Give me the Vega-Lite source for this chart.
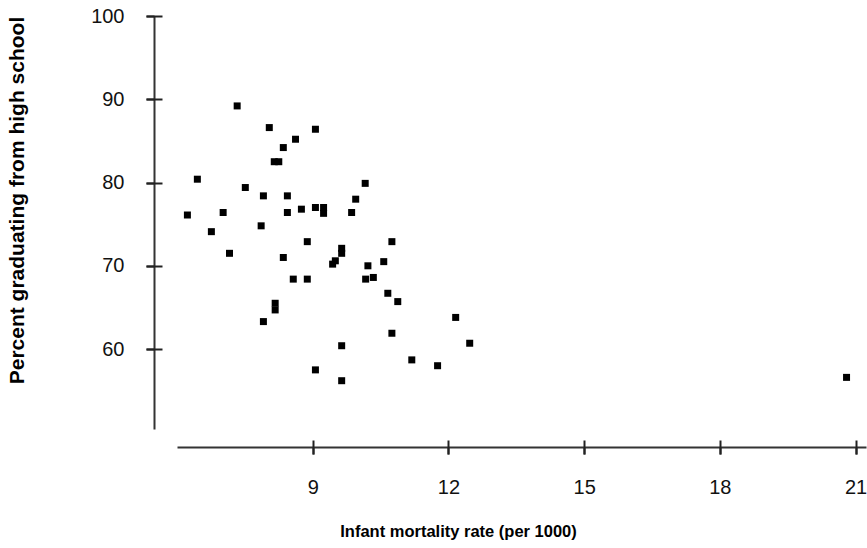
{
  "$schema": "https://vega.github.io/schema/vega-lite/v6.json",
  "width": 689,
  "height": 413,
  "autosize": {"type": "none"},
  "padding": {"left": 177, "top": 16, "right": 1, "bottom": 119},
  "background": "white",
  "config": {"view": {"stroke": null}, "axis": {"grid": false}},
  "data": {"values": [
    {"rate": 7.33, "pct": 89.2}, {"rate": 8.04, "pct": 86.6}, {"rate": 9.06, "pct": 86.4},
    {"rate": 8.62, "pct": 85.2}, {"rate": 8.35, "pct": 84.2}, {"rate": 8.15, "pct": 82.5},
    {"rate": 8.25, "pct": 82.5}, {"rate": 6.45, "pct": 80.4}, {"rate": 7.51, "pct": 79.4},
    {"rate": 10.16, "pct": 79.9}, {"rate": 7.91, "pct": 78.4}, {"rate": 8.44, "pct": 78.4},
    {"rate": 9.95, "pct": 78.0}, {"rate": 6.23, "pct": 76.1}, {"rate": 7.02, "pct": 76.4},
    {"rate": 8.44, "pct": 76.4}, {"rate": 8.75, "pct": 76.8}, {"rate": 9.06, "pct": 77.0},
    {"rate": 9.24, "pct": 77.0}, {"rate": 9.24, "pct": 76.3}, {"rate": 9.86, "pct": 76.4},
    {"rate": 6.76, "pct": 74.1}, {"rate": 7.86, "pct": 74.8}, {"rate": 8.88, "pct": 72.9},
    {"rate": 9.64, "pct": 72.1}, {"rate": 9.64, "pct": 71.5}, {"rate": 9.50, "pct": 70.6},
    {"rate": 9.44, "pct": 70.2}, {"rate": 7.16, "pct": 71.5}, {"rate": 8.35, "pct": 71.0},
    {"rate": 10.22, "pct": 70.0}, {"rate": 10.17, "pct": 68.4}, {"rate": 10.34, "pct": 68.6},
    {"rate": 8.57, "pct": 68.4}, {"rate": 8.88, "pct": 68.4}, {"rate": 8.17, "pct": 65.5},
    {"rate": 8.17, "pct": 64.7}, {"rate": 7.91, "pct": 63.3}, {"rate": 9.64, "pct": 60.4},
    {"rate": 9.06, "pct": 57.5}, {"rate": 9.64, "pct": 56.2}, {"rate": 10.75, "pct": 72.9},
    {"rate": 10.57, "pct": 70.5}, {"rate": 10.66, "pct": 66.7}, {"rate": 10.88, "pct": 65.7},
    {"rate": 12.16, "pct": 63.8}, {"rate": 10.75, "pct": 61.9}, {"rate": 12.47, "pct": 60.7},
    {"rate": 11.19, "pct": 58.7}, {"rate": 11.76, "pct": 58.0}, {"rate": 20.80, "pct": 56.6}
  ]},
  "layer": [
    {
      "mark": {"type": "square", "size": 49, "color": "black", "opacity": 1, "filled": true},
      "encoding": {
        "x": {
          "field": "rate", "type": "quantitative",
          "scale": {"domain": [6, 21.23], "nice": false, "zero": false},
          "axis": {
            "orient": "bottom", "values": [9, 12, 15, 18, 21], "offset": 18,
            "tickSize": 7, "tickWidth": 2, "tickColor": "#222",
            "domainWidth": 2, "domainColor": "#333",
            "labelFont": "Liberation Sans", "labelFontSize": 20, "labelColor": "#111",
            "labelPadding": 23, "labelDx": -3,
            "title": "Infant mortality rate (per 1000)",
            "titleFont": "Liberation Sans", "titleFontSize": 16.5, "titleFontWeight": "bold",
            "titleColor": "#000", "titleX": 281, "titleY": 89, "titleBaseline": "alphabetic",
            "titleAlign": "center"
          }
        },
        "y": {
          "field": "pct", "type": "quantitative",
          "scale": {"domain": [50.4, 100], "nice": false, "zero": false},
          "axis": {
            "orient": "left", "values": [60, 70, 80, 90, 100], "offset": 23,
            "tickSize": 8, "tickWidth": 2, "tickColor": "#222",
            "domainWidth": 2, "domainColor": "#333",
            "labelFont": "Liberation Sans", "labelFontSize": 20, "labelColor": "#111",
            "labelPadding": 22,
            "title": "Percent graduating from high school",
            "titleFont": "Liberation Sans", "titleFontSize": 21, "titleFontWeight": "bold",
            "titleColor": "#000", "titleX": -137, "titleY": 184, "titleBaseline": "middle",
            "titleAlign": "center", "titleAngle": -90
          }
        }
      }
    },
    {
      "mark": {"type": "square", "size": 49, "opacity": 0},
      "encoding": {
        "x": {
          "field": "rate", "type": "quantitative",
          "scale": {"domain": [6, 21.23], "nice": false, "zero": false},
          "axis": {"orient": "bottom", "values": [9, 12, 15, 18, 21], "offset": 11,
            "tickSize": 14, "tickWidth": 2, "tickColor": "#222",
            "domain": false, "labels": false, "title": null}
        },
        "y": {
          "field": "pct", "type": "quantitative",
          "scale": {"domain": [50.4, 100], "nice": false, "zero": false},
          "axis": {"orient": "left", "values": [60, 70, 80, 90, 100], "offset": 15,
            "tickSize": 16, "tickWidth": 2, "tickColor": "#222",
            "domain": false, "labels": false, "title": null}
        }
      }
    }
  ],
  "resolve": {"scale": {"x": "independent", "y": "independent"}, "axis": {"x": "independent", "y": "independent"}}
}
